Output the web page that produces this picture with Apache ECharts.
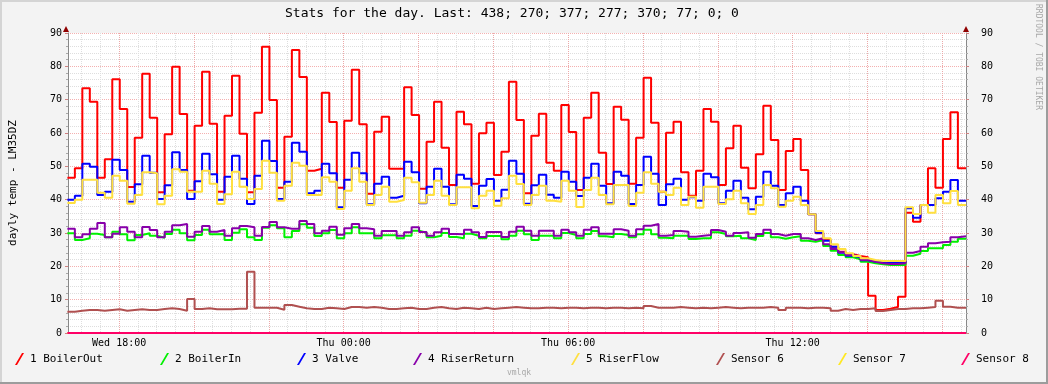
<!DOCTYPE html>
<html><head><meta charset="utf-8">
<script src="https://cdn.jsdelivr.net/npm/echarts@6/dist/echarts.min.js"></script>
<style>html,body{margin:0;padding:0;background:#F3F3F3}#c{width:1048px;height:384px}</style>
</head><body><div id="c"></div>
<script>
// ---------- data ----------
const titleText = 'Stats for the day. Last: 438; 270; 377; 277; 370; 77; 0; 0';
const yAxisTitle = 'dayly temp - LM35DZ';
const seriesNames = ['1 BoilerOut','2 BoilerIn','3 Valve','4 RiserReturn','5 RiserFlow','Sensor 6','Sensor 7','Sensor 8'];
const seriesColors = ['#FF0000','#00F000','#0000FF','#8800AA','#FFE040','#B05050','#FFE820','#FF0066'];
// time axis in minutes since Wed 00:00; window Wed 16:38 .. Thu 16:38
const axisStart = 998, axisEnd = 2438;
const dataStart = 997, stepMinutes = 12;   // consolidated rows of 12 minutes
const xTickValues = [1080, 1440, 1800, 2160];
const xTickLabels = ['Wed 18:00', 'Thu 00:00', 'Thu 06:00', 'Thu 12:00'];

const boilerOut = [
 46.6,49.4,73.4,69.4,46.6,52.1,76.1,67.2,43.8,58.6,77.8,64.6,42.2,59.6,79.9,65.7,42.7,62.2,78.4,62.8,
 42.4,65.2,77.2,59.8,42.2,66.1,85.9,69.9,43.6,58.9,84.9,76.8,48.7,49.3,72.1,63.3,43.6,63.7,79.0,62.6,
 41.8,60.4,64.9,49.3,49.3,73.7,65.4,43.3,57.4,69.4,55.6,44.4,66.4,62.6,44.8,59.9,63.1,47.4,54.4,75.4,
 63.9,41.9,59.2,65.8,51.1,48.7,68.4,60.3,42.9,64.6,72.1,54.1,44.7,67.9,64.0,44.8,58.6,76.6,63.1,42.4,
 60.1,63.4,48.2,41.2,48.7,67.2,63.4,44.4,55.4,62.2,49.6,43.4,53.6,68.2,57.9,42.9,54.6,58.2,48.9,35.6,
 29.9,27.9,25.9,24.4,23.6,23.1,22.7,11.2,6.9,7.3,7.8,10.9,36.1,33.4,38.4,49.4,43.6,58.2,66.2,49.4];
const boilerIn = [
 29.9,27.9,28.4,29.8,29.4,28.7,30.4,29.6,27.8,29.4,29.9,29.2,28.6,29.7,31.0,29.9,27.8,29.4,31.0,29.6,
 29.7,27.9,30.1,31.1,28.7,27.9,31.6,32.3,31.4,28.7,30.6,32.6,31.6,29.1,29.9,30.9,28.4,29.9,31.7,29.9,
 29.9,28.4,29.3,29.3,28.4,29.2,30.7,30.1,28.7,29.2,30.0,28.8,28.4,29.8,29.2,28.4,29.1,29.1,28.1,29.2,
 30.7,29.6,27.9,29.2,29.2,28.4,30.0,29.4,28.4,29.7,30.6,29.0,28.7,29.7,29.4,28.7,29.6,31.0,29.6,28.6,
 28.4,29.2,29.2,28.2,28.4,28.4,30.2,29.7,29.0,29.2,28.4,27.9,29.1,30.0,28.7,28.3,28.7,29.0,27.7,27.4,
 27.9,26.1,24.7,23.4,22.7,22.1,21.4,20.9,20.6,20.4,20.4,20.4,23.2,23.8,24.6,25.4,25.4,26.4,27.4,28.3];
const valve = [
 40.0,41.2,50.8,49.9,41.4,42.4,52.0,48.9,39.4,44.6,53.2,48.1,40.2,44.3,54.2,48.9,40.2,45.5,53.8,47.6,
 40.0,46.9,53.2,46.3,38.7,47.2,57.7,51.6,40.2,45.4,57.1,54.4,41.9,42.7,50.8,47.9,37.7,46.0,54.1,47.9,
 38.6,44.8,46.9,40.6,41.2,51.4,48.2,38.9,43.9,49.3,43.9,38.6,47.5,46.3,38.1,44.2,46.2,39.7,43.0,51.7,
 47.8,38.8,44.3,47.5,41.5,40.6,48.4,45.4,41.1,46.6,50.8,44.2,38.9,48.4,47.2,38.7,44.4,52.9,47.8,38.4,
 44.6,46.3,40.0,40.7,39.7,47.8,46.7,38.9,42.7,45.7,40.6,37.1,40.9,48.4,44.2,38.4,41.9,43.9,39.7,35.6,
 30.1,27.7,25.9,24.1,23.2,22.7,21.8,21.4,21.2,21.2,21.2,21.2,37.4,34.6,38.4,38.4,40.4,42.4,45.9,39.7];
const riserReturn = [
 31.3,28.7,29.6,31.3,33.0,28.7,29.8,31.7,30.4,28.7,31.8,30.9,28.7,30.4,32.3,32.7,28.9,30.4,32.1,30.4,
 30.9,29.2,31.4,32.1,31.7,29.2,31.8,33.3,31.7,31.3,31.3,33.6,32.7,29.9,30.7,31.9,29.5,31.4,32.7,31.4,
 31.1,29.2,30.6,30.6,29.2,30.2,31.7,30.3,29.2,30.2,31.3,29.7,29.6,31.0,30.2,28.8,30.3,30.3,28.8,30.4,
 31.9,30.7,29.2,30.7,30.7,29.2,31.0,30.2,29.2,31.0,31.7,29.8,29.8,31.1,30.7,29.2,31.1,32.2,32.7,29.2,
 29.4,30.6,30.4,28.9,29.2,29.4,30.9,30.4,29.2,30.0,30.2,28.6,29.7,31.0,29.7,29.2,29.7,29.7,28.4,27.9,
 28.4,26.6,25.2,24.2,23.4,22.9,21.9,21.4,20.9,20.7,20.7,20.9,24.1,24.6,25.9,26.9,27.2,27.4,28.7,29.0];
const riserFlow = [
 39.0,40.0,46.0,46.0,42.1,40.6,47.2,45.7,38.8,41.4,48.2,47.9,38.6,41.2,49.1,48.4,42.4,42.4,48.7,44.8,
 38.7,41.6,48.4,43.9,40.2,43.2,51.7,48.1,39.7,44.2,51.1,50.2,41.4,41.4,46.7,45.4,37.2,42.7,49.4,45.4,
 38.4,41.4,43.9,39.4,39.9,46.6,45.2,39.1,41.4,45.7,41.2,38.4,43.7,43.7,37.4,41.2,42.7,38.2,40.4,47.2,
 44.7,38.4,41.4,44.2,39.7,39.4,45.7,42.7,37.8,42.9,46.6,41.4,38.6,44.4,44.4,38.1,42.1,48.2,44.8,42.4,
 41.4,43.6,38.4,40.9,37.6,43.9,43.9,38.7,40.1,42.7,38.9,35.7,38.4,44.4,43.4,37.9,39.7,40.9,38.4,35.6,
 30.6,28.4,26.6,25.2,23.9,23.1,22.4,21.9,21.6,21.6,21.6,21.6,37.7,35.7,38.4,36.1,41.4,38.9,42.6,38.4];
const sensor6 = [
 6.4,6.7,6.9,6.9,6.7,6.9,7.1,6.7,6.9,7.1,6.9,6.9,7.2,7.4,7.2,6.7,10.2,7.2,7.4,7.1,
 7.1,7.1,7.3,7.3,18.4,7.6,7.6,7.6,7.0,8.4,7.9,7.4,7.2,7.2,7.6,7.4,7.2,7.8,7.8,7.6,
 7.8,7.6,7.2,7.2,7.4,7.6,7.2,7.2,7.6,7.8,7.4,7.2,7.6,7.4,7.2,7.6,7.2,7.4,7.6,7.8,
 7.6,7.4,7.4,7.6,7.6,7.4,7.6,7.6,7.4,7.6,7.6,7.4,7.6,7.6,7.4,7.6,7.4,8.1,7.6,7.6,
 7.6,7.8,7.6,7.4,7.6,7.4,7.6,7.8,7.6,7.4,7.6,7.6,7.6,7.8,7.6,6.9,7.6,7.6,7.4,7.6,
 7.6,7.4,6.7,7.2,6.9,7.2,7.2,7.4,6.6,6.9,7.2,7.2,7.4,7.4,7.6,7.8,9.7,7.9,7.6,7.6];
const sensor7 = [
 0,0,0,0,0,0,0,0,0,0,0,0,0,0,0,0,0,0,0,0, 0,0,0,0,0,0,0,0,0,0,0,0,0,0,0,0,0,0,0,0,
 0,0,0,0,0,0,0,0,0,0,0,0,0,0,0,0,0,0,0,0, 0,0,0,0,0,0,0,0,0,0,0,0,0,0,0,0,0,0,0,0,
 0,0,0,0,0,0,0,0,0,0,0,0,0,0,0,0,0,0,0,0, 0,0,0,0,0,0,0,0,0,0,0,0,0,0,0,0,0,0,0,0];
const sensor8 = [
 0,0,0,0,0,0,0,0,0,0,0,0,0,0,0,0,0,0,0,0, 0,0,0,0,0,0,0,0,0,0,0,0,0,0,0,0,0,0,0,0,
 0,0,0,0,0,0,0,0,0,0,0,0,0,0,0,0,0,0,0,0, 0,0,0,0,0,0,0,0,0,0,0,0,0,0,0,0,0,0,0,0,
 0,0,0,0,0,0,0,0,0,0,0,0,0,0,0,0,0,0,0,0, 0,0,0,0,0,0,0,0,0,0,0,0,0,0,0,0,0,0,0,0];
const seriesValues = [boilerOut, boilerIn, valve, riserReturn, riserFlow, sensor6, sensor7, sensor8];

// ---------- layout ----------
const FONT = '"DejaVu Sans Mono", monospace';
const G = {left: 66, right: 82, top: 33, bottom: 51};
const W = 1048, H = 384;
const legendLefts = [15, 160, 297, 413, 571, 716, 838, 961];
const MINOR_GRID = '#DEDEDE', MAJOR_GRID = 'rgba(240,150,150,0.75)';

function stepData(vals) {
  const d = vals.map((v, i) => [dataStart + i * stepMinutes, v]);
  d.push([axisEnd, vals[vals.length - 1]]);
  return d;
}
const minorGrid = [], majorGrid = [];
for (let t = Math.ceil(axisStart / 30) * 30; t <= axisEnd; t += 30) minorGrid.push(t);
for (let t = Math.ceil(axisStart / 120) * 120; t <= axisEnd; t += 120) majorGrid.push(t);

function overlayX(values, color) {
  return {
    type: 'value', gridIndex: 0, min: axisStart, max: axisEnd,
    axisLine: {show: false}, axisLabel: {show: false},
    axisTick: {show: false, customValues: values},
    splitLine: {show: true, lineStyle: {color: color, width: 1, type: [1, 1]}}
  };
}

const chart = echarts.init(document.getElementById('c'), null, {renderer: 'canvas'});
const legendIcon = 'path://M0,12 L2,12 L9,0 L7,0 Z';

const option = {
  backgroundColor: '#F3F3F3',
  animation: false,
  title: {
    text: titleText, left: 280, top: 2,
    textStyle: {fontFamily: FONT, fontSize: 13, fontWeight: 'normal', color: '#000'}
  },
  grid: {left: G.left, right: G.right, top: G.top, bottom: G.bottom, show: true,
         backgroundColor: '#FFFFFF', borderWidth: 0},
  legend: seriesNames.map((n, i) => ({
    left: legendLefts[i], top: 353, orient: 'horizontal', selectedMode: false,
    itemWidth: 9, itemHeight: 12, padding: 0,
    data: [{name: n, icon: legendIcon}],
    textStyle: {fontFamily: FONT, fontSize: 11, color: '#000', padding: [0, 0, 0, 1]}
  })),
  xAxis: [
    {
      type: 'value', gridIndex: 0, min: axisStart, max: axisEnd,
      axisLine: {show: true, lineStyle: {color: '#888', width: 1}},
      axisTick: {show: false, customValues: xTickValues},
      splitLine: {show: false},
      axisLabel: {
        customValues: xTickValues, margin: 5,
        fontFamily: FONT, fontSize: 10, color: '#000',
        formatter: v => { const i = xTickValues.indexOf(v); return i >= 0 ? xTickLabels[i] : ''; }
      }
    },
    overlayX(minorGrid, MINOR_GRID),
    overlayX(majorGrid, MAJOR_GRID)
  ],
  yAxis: [
    {
      type: 'value', min: 0, max: 90, interval: 10, position: 'left',
      name: yAxisTitle, nameLocation: 'middle', nameRotate: 90, nameGap: 49,
      nameTextStyle: {fontFamily: FONT, fontSize: 11, color: '#000'},
      axisLine: {show: true, lineStyle: {color: '#888', width: 1}},
      axisTick: {show: true, length: 3, lineStyle: {color: '#D08080'}},
      minorTick: {show: true, splitNumber: 5, length: 2, lineStyle: {color: '#AAA'}},
      axisLabel: {margin: 6, fontFamily: FONT, fontSize: 10, color: '#000'},
      splitLine: {show: true, lineStyle: {color: MAJOR_GRID, width: 1, type: [1, 1]}},
      minorSplitLine: {show: true, lineStyle: {color: MINOR_GRID, width: 1, type: [1, 1]}}
    },
    {
      type: 'value', min: 0, max: 90, interval: 10, position: 'right',
      axisLine: {show: true, lineStyle: {color: '#888', width: 1}},
      axisTick: {show: true, length: 3, lineStyle: {color: '#D08080'}},
      minorTick: {show: true, splitNumber: 5, length: 2, lineStyle: {color: '#AAA'}},
      axisLabel: {margin: 15, fontFamily: FONT, fontSize: 10, color: '#000'},
      splitLine: {show: false}
    }
  ],
  series: seriesNames.map((n, i) => ({
    name: n, type: 'line', xAxisIndex: 0, yAxisIndex: 0,
    step: 'end', showSymbol: false, symbol: 'none', clip: true,
    color: seriesColors[i],
    lineStyle: {color: seriesColors[i], width: 2},
    data: stepData(seriesValues[i]),
    z: 2 + i
  })),
  graphic: [
    {type: 'rect', shape: {x: 0, y: 0, width: W, height: 2}, style: {fill: '#D4D4D4'}, silent: true},
    {type: 'rect', shape: {x: 0, y: 0, width: 2, height: H}, style: {fill: '#D4D4D4'}, silent: true},
    {type: 'rect', shape: {x: 0, y: H - 2, width: W, height: 2}, style: {fill: '#9C9C9C'}, silent: true},
    {type: 'rect', shape: {x: W - 2, y: 0, width: 2, height: H}, style: {fill: '#9C9C9C'}, silent: true},
    {type: 'polygon', shape: {points: [[G.left - 3, G.top - 1], [G.left + 3, G.top - 1], [G.left, G.top - 7]]}, style: {fill: '#900000'}, silent: true},
    {type: 'polygon', shape: {points: [[W - G.right - 3, G.top - 1], [W - G.right + 3, G.top - 1], [W - G.right, G.top - 7]]}, style: {fill: '#900000'}, silent: true},
    {type: 'text', x: 1038, y: 4, rotation: -Math.PI / 2,
     style: {text: 'RRDTOOL / TOBI OETIKER', fontFamily: FONT, fontSize: 8, fill: '#A8A8A8', align: 'left', verticalAlign: 'middle'}, silent: true},
    {type: 'text', x: 519, y: 373,
     style: {text: 'vmlqk', fontFamily: FONT, fontSize: 8, fill: '#A8A8A8', align: 'center', verticalAlign: 'middle'}, silent: true}
  ]
};
chart.setOption(option);
</script></body></html>
